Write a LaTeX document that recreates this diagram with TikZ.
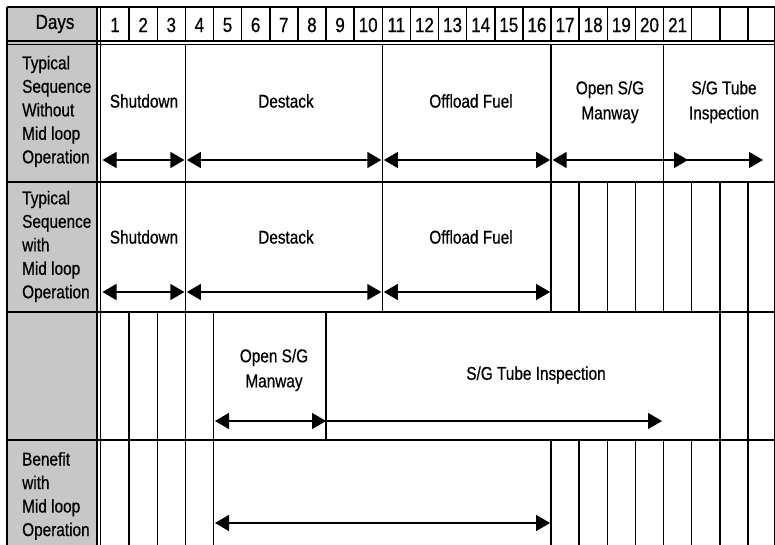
\documentclass[tikz,border=0pt]{standalone}
\usepackage{fontspec}
\setmainfont{Liberation Sans}[FakeStretch=0.83,FakeBold=0.6]
\usetikzlibrary{arrows.meta}
\newcommand\colx[1]{{101+28.13*(#1)}}
\begin{document}
\begin{tikzpicture}[x=1pt,y=-1pt,
  gridline/.style={line width=1.5pt},
  thinline/.style={line width=0.8pt},
  lbl/.style={font=\fontsize{18.5}{25}\selectfont, inner sep=0pt, align=center},
  hdr/.style={font=\fontsize{20.5}{22}\selectfont, inner sep=0pt},
  side/.style={font=\fontsize{18.5}{23.5}\selectfont, inner sep=0pt, align=left, anchor=west},
  span/.style={line width=1.4pt, {Triangle[length=14pt,width=16pt]}-{Triangle[length=14pt,width=16pt]}},
  fwd/.style={line width=1.4pt, -{Triangle[length=14pt,width=16pt]}}]
\useasboundingbox (0,0) rectangle (775,545);
% gray label column
\fill[black!22] (7,7) rectangle (97,545);
% horizontal lines
\draw[gridline] (7,7) -- (775,7);
\draw[gridline] (7,41) -- (775,41);
\draw[gridline] (7,44.5) -- (775,44.5);
\foreach \yy in {182,312,440} \draw[gridline] (7,\yy) -- (775,\yy);
% left borders
\draw[gridline] (7,7) -- (7,545);
\draw[gridline] (97,7) -- (97,545);
\draw[gridline] (100.5,7) -- (100.5,545);
\draw[thinline] (774,7) -- (774,545);
% header day lines
\foreach \i in {1,...,23} \draw[gridline] (\colx{\i},7) -- (\colx{\i},41);
% row 1 lines
\foreach \i in {3,10,16,20} \draw[gridline] (\colx{\i},44.5) -- (\colx{\i},182);
% row 2 lines
\foreach \i in {3,10,16,17,18,19,20,21,22,23} \draw[gridline] (\colx{\i},182) -- (\colx{\i},312);
% row 3 lines
\foreach \i in {1,2,3,4,8,22,23} \draw[gridline] (\colx{\i},312) -- (\colx{\i},440);
% row 4 lines
\foreach \i in {1,2,3,4,16,17,18,19,20,21,22,23} \draw[gridline] (\colx{\i},440) -- (\colx{\i},545);
% header texts
\node[hdr] (days) at (55,24) {Days};
\foreach \i in {1,...,21} \node[hdr] (d\i) at ({101+28.13*(\i-1)+14},25) {\i};
% side labels
\node[side] (s1) at (22,111.5) {Typical\\Sequence\\Without\\Mid loop\\Operation};
\node[side] (s2) at (22,246.5) {Typical\\Sequence\\with\\Mid loop\\Operation};
\node[side] (s4) at (22,496) {Benefit\\with\\Mid loop\\Operation};
% row 1 labels
\node[lbl] (r1a) at (144,101) {Shutdown};
\node[lbl] (r1b) at (286,101) {Destack};
\node[lbl] (r1c) at (471,101) {Offload Fuel};
\node[lbl] (r1d) at (610,102) {Open S/G\\Manway};
\node[lbl] (r1e) at (724,102) {S/G Tube\\Inspection};
% row 2 labels
\node[lbl] (r2a) at (144,237) {Shutdown};
\node[lbl] (r2b) at (286,237) {Destack};
\node[lbl] (r2c) at (471,237) {Offload Fuel};
% row 3 labels
\node[lbl] (r3a) at (274,370) {Open S/G\\Manway};
\node[lbl] (r3b) at (536,375) {S/G Tube Inspection};
% arrow end points
\coordinate (p10) at ({101+28.13*0+1.5},160);
\coordinate (p13) at ({101+28.13*3-1},160);
\coordinate (q13) at ({101+28.13*3+1.5},160);
\coordinate (p110) at ({101+28.13*10-1},160);
\coordinate (q110) at ({101+28.13*10+1.5},160);
\coordinate (p116) at ({101+28.13*16-1},160);
\coordinate (q116) at ({101+28.13*16+1.5},160);
\coordinate (p120) at ({101+28.13*20},160);
\coordinate (m120) at (688,160);
\coordinate (p1end) at (763,160);
\coordinate (p20) at ({101+28.13*0+1.5},292);
\coordinate (p23) at ({101+28.13*3-1},292);
\coordinate (q23) at ({101+28.13*3+1.5},292);
\coordinate (p210) at ({101+28.13*10-1},292);
\coordinate (q210) at ({101+28.13*10+1.5},292);
\coordinate (p216) at ({101+28.13*16-1},292);
\coordinate (q34) at ({101+28.13*4+1.5},421);
\coordinate (p38) at ({101+28.13*8},421);
\coordinate (p3end) at (662,421);
\coordinate (q44) at ({101+28.13*4+1.5},523);
\coordinate (p416) at ({101+28.13*16-1},523);
% arrows
\draw[span] (p10) -- (p13);
\draw[span] (q13) -- (p110);
\draw[span] (q110) -- (p116);
\draw[span] (q116) -- (p1end);
\draw[fwd] (p120) -- (m120);
\draw[span] (p20) -- (p23);
\draw[span] (q23) -- (p210);
\draw[span] (q210) -- (p216);
\draw[span] (q34) -- (p38);
\draw[fwd] (p38) -- (p3end);
\draw[span] (q44) -- (p416);
\end{tikzpicture}
\end{document}
